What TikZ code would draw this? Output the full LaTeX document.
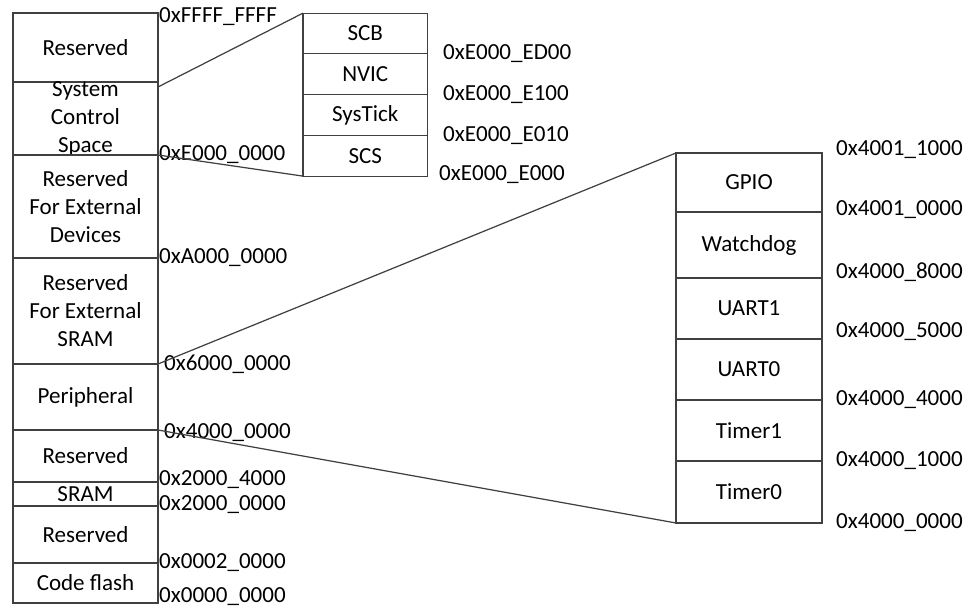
\documentclass[tikz,border=0pt]{standalone}
\usepackage{fontspec}
\setmainfont{Carlito}
\usetikzlibrary{positioning,calc}
\definecolor{Edge}{HTML}{404040}

\tikzset{
  memblk/.style={draw=Edge, line width=0.7pt, inner sep=0pt, outer sep=0pt, minimum width=2.9cm},
  blktxt/.style={align=center, inner sep=0pt, font=\fontsize{13.1}{15.9}\selectfont},
  addr/.style={inner sep=0.5pt, font=\fontsize{13.1}{15.9}\selectfont},
  zoomline/.style={draw=Edge, line width=0.7pt},
}

\begin{document}
\begin{tikzpicture}
    \useasboundingbox (0,0) rectangle (19.36,12.18);
    % full memory map
    \node[memblk, minimum height=1.38cm, label={[blktxt]center:Reserved}] (res1) at (1.71,11.23) {};
    \node[memblk, minimum height=1.46cm, label={[blktxt]center:System\\Control\\Space}, below=0pt of res1] (scs) {};
    \node[memblk, minimum height=2.06cm, label={[blktxt]center:Reserved\\For External\\Devices}, below=0pt of scs] (extdev) {};
    \node[memblk, minimum height=2.12cm, label={[blktxt]center:Reserved\\For External\\SRAM}, below=0pt of extdev] (extsram) {};
    \node[memblk, minimum height=1.32cm, label={[blktxt]center:Peripheral}, below=0pt of extsram] (periph) {};
    \node[memblk, minimum height=1.04cm, label={[blktxt]center:Reserved}, below=0pt of periph] (res2) {};
    \node[memblk, minimum height=0.48cm, label={[blktxt]center:SRAM}, below=0pt of res2] (sram) {};
    \node[memblk, minimum height=1.14cm, label={[blktxt]center:Reserved}, below=0pt of sram] (res3) {};
    \node[memblk, minimum height=0.80cm, label={[blktxt]center:Code flash}, below=0pt of res3] (flash) {};

    \node[addr, right=0pt of res1.north east, yshift=-0.08cm] (aFFFF) {0xFFFF\_FFFF};
    \node[addr, right=0pt of scs.south east] (aE000) {0xE000\_0000};
    \node[addr, right=0pt of extdev.south east] (aA000) {0xA000\_0000};
    \node[addr, right=0pt of extsram.south east, xshift=0.1cm] (a6000) {0x6000\_0000};
    \node[addr, right=0pt of periph.south east, xshift=0.1cm, yshift=-0.06cm] (a4000) {0x4000\_0000};
    \node[addr, right=0pt of res2.south east, yshift=0.04cm] (a2004) {0x2000\_4000};
    \node[addr, right=0pt of sram.south east, yshift=0.02cm] (a2000) {0x2000\_0000};
    \node[addr, right=0pt of res3.south east] (a0002) {0x0002\_0000};
    \node[addr, right=0pt of flash.south east, yshift=0.12cm] (a0000) {0x0000\_0000};

    % system control space
    \node[memblk, minimum width=2.49cm, minimum height=0.815cm, label={[blktxt]center:SCB}] (scb) at (7.305,11.51) {};
    \node[memblk, minimum width=2.49cm, minimum height=0.815cm, label={[blktxt]center:NVIC}, below=0pt of scb] (nvic) {};
    \node[memblk, minimum width=2.49cm, minimum height=0.815cm, label={[blktxt]center:SysTick}, below=0pt of nvic] (systick) {};
    \node[memblk, minimum width=2.49cm, minimum height=0.815cm, label={[blktxt]center:SCS}, below=0pt of systick] (scsreg) {};

    \node[addr, right=0.29cm of scb.south east] (aED00) {0xE000\_ED00};
    \node[addr, right=0.29cm of nvic.south east] (aE100) {0xE000\_E100};
    \node[addr, right=0.29cm of systick.south east] (aE010) {0xE000\_E010};
    \node[addr, right=0.21cm of scsreg.south east, yshift=0.03cm] (aE000s) {0xE000\_E000};

    % peripherals
    \node[memblk, minimum width=2.92cm, minimum height=1.18cm, label={[blktxt]center:GPIO}] (gpio) at (14.98,8.53) {};
    \node[memblk, minimum width=2.92cm, minimum height=1.32cm, label={[blktxt]center:Watchdog}, below=0pt of gpio] (wdog) {};
    \node[memblk, minimum width=2.92cm, minimum height=1.22cm, label={[blktxt]center:UART1}, below=0pt of wdog] (uart1) {};
    \node[memblk, minimum width=2.92cm, minimum height=1.22cm, label={[blktxt]center:UART0}, below=0pt of uart1] (uart0) {};
    \node[memblk, minimum width=2.92cm, minimum height=1.22cm, label={[blktxt]center:Timer1}, below=0pt of uart0] (tmr1) {};
    \node[memblk, minimum width=2.92cm, minimum height=1.24cm, label={[blktxt]center:Timer0}, below=0pt of tmr1] (tmr0) {};

    \node[addr, right=0.26cm of gpio.north east, yshift=0.06cm] (a4011) {0x4001\_1000};
    \node[addr, right=0.26cm of gpio.south east, yshift=0.04cm] (a4010) {0x4001\_0000};
    \node[addr, right=0.26cm of wdog.south east, yshift=0.12cm] (a4008) {0x4000\_8000};
    \node[addr, right=0.26cm of uart1.south east, yshift=0.14cm] (a4005) {0x4000\_5000};
    \node[addr, right=0.26cm of uart0.south east] (a4004) {0x4000\_4000};
    \node[addr, right=0.26cm of tmr1.south east] (a4001) {0x4000\_1000};
    \node[addr, right=0.26cm of tmr0.south east] (a4000p) {0x4000\_0000};

    % zoom lines
    \draw[zoomline] ([yshift=-0.1cm]scs.north east) -- (scb.north west);
    \draw[zoomline] (scs.south east) -- (scsreg.south west);
    \draw[zoomline] (extsram.south east) -- (gpio.north west);
    \draw[zoomline] (periph.south east) -- (tmr0.south west);
\end{tikzpicture}
\end{document}
